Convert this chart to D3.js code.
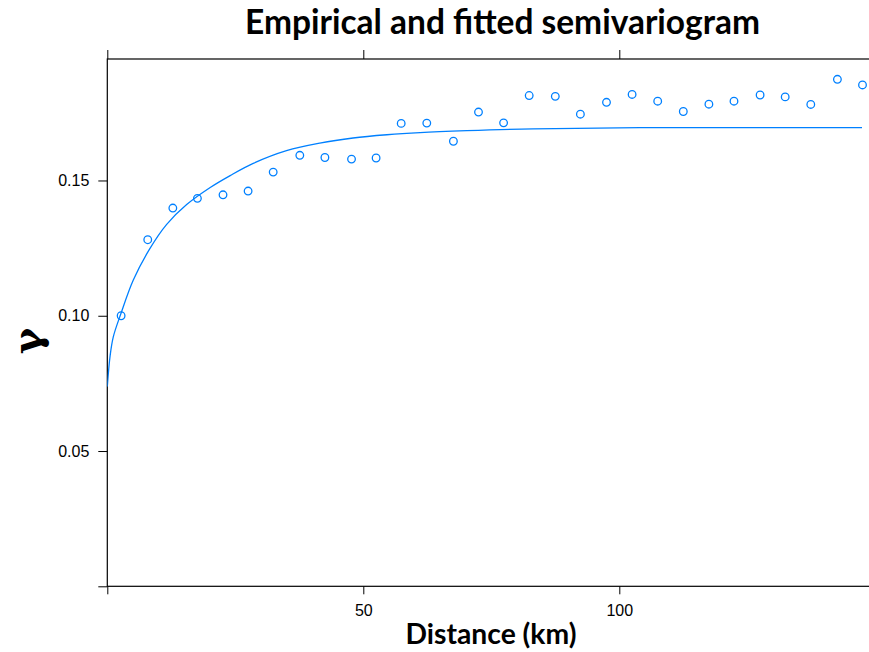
<!DOCTYPE html>
<html>
<head>
<meta charset="utf-8">
<script src="https://cdn.jsdelivr.net/npm/d3@7"></script>
<style>
  body { margin: 0; background: #fff; }
  svg { display: block; }
  .tick text { font-family: "Liberation Sans", Arial, sans-serif; font-size: 16px; fill: #000; }
  .tick line, .domain { stroke: #000; }
</style>
</head>
<body>
<svg id="chart" width="869" height="652"></svg>
<script>
// empirical semivariogram (distance in km, gamma)
const distances = [2.7, 7.9, 12.8, 17.6, 22.6, 27.5, 32.4, 37.6, 42.5, 47.7,
  52.5, 57.4, 62.4, 67.6, 72.5, 77.4, 82.4, 87.5, 92.4, 97.5,
  102.5, 107.5, 112.5, 117.5, 122.4, 127.5, 132.4, 137.4, 142.6, 147.5];
const gammas = [0.1000, 0.1281, 0.1398, 0.1434, 0.1447, 0.1461, 0.1531, 0.1593, 0.1585, 0.1579,
  0.1583, 0.1711, 0.1712, 0.1645, 0.1753, 0.1713, 0.1814, 0.1811, 0.1745, 0.1789,
  0.1818, 0.1793, 0.1755, 0.1782, 0.1793, 0.1816, 0.1809, 0.1781, 0.1874, 0.1853];

// fitted model
const fitDist = [0, 0.53, 1.17, 2.68, 5.08, 8.34, 11.6, 15.5, 20.1, 24.0, 28.5,
  35.0, 41.5, 48.0, 54.6, 61.1, 70.2, 83.2, 104.0, 147.4];
const fitGamma = [0.0738, 0.0849, 0.0922, 0.1009, 0.1132, 0.1249, 0.1338, 0.1411,
  0.1474, 0.1518, 0.1563, 0.1610, 0.1638, 0.1657, 0.1669, 0.1677, 0.1684, 0.1691, 0.1695, 0.1695];

const xTicks = [0, 50, 100];
const yTicks = [0, 0.05, 0.10, 0.15];

const panel = { left: 107.3, top: 59, bottom: 586.3 };
const pxPerKm = 5.12;
const xMax = 155;
const yMax = 0.1949;
const blue = "#0080ff";

const svg = d3.select("#chart");

const x = d3.scaleLinear().domain([0, xMax]).range([panel.left, panel.left + xMax * pxPerKm]);
const y = d3.scaleLinear().domain([0, yMax]).range([panel.bottom, panel.top]);

svg.append("defs").append("clipPath").attr("id", "clip")
  .append("rect")
  .attr("x", x(0)).attr("y", y(yMax))
  .attr("width", x(xMax) - x(0)).attr("height", y(0) - y(yMax));

// panel box
svg.append("rect")
  .attr("x", x(0)).attr("y", y(yMax))
  .attr("width", x(xMax) - x(0)).attr("height", y(0) - y(yMax))
  .attr("fill", "none").attr("stroke", "#000").attr("stroke-width", 1.2);

const lbl = (v, fmt) => (v === 0 ? "" : fmt(v));

svg.append("g")
  .attr("transform", `translate(0, ${y(0)})`)
  .call(d3.axisBottom(x).tickValues(xTicks).tickSize(8).tickPadding(10).tickFormat(v => lbl(v, d3.format("d"))))
  .call(g => g.select(".domain").remove());

svg.append("g")
  .attr("transform", `translate(0, ${y(yMax)})`)
  .call(d3.axisTop(x).tickValues(xTicks).tickSize(9).tickFormat(""))
  .call(g => g.select(".domain").remove());

svg.append("g")
  .attr("transform", `translate(${x(0)}, 0)`)
  .call(d3.axisLeft(y).tickValues(yTicks).tickSize(9).tickPadding(9).tickFormat(v => lbl(v, d3.format(".2f"))))
  .call(g => g.select(".domain").remove());

const plot = svg.append("g").attr("clip-path", "url(#clip)");

const fit = fitDist.map((d, i) => [d, fitGamma[i]]);
plot.append("path")
  .datum(fit)
  .attr("fill", "none")
  .attr("stroke", blue)
  .attr("stroke-width", 1.3)
  .attr("d", d3.line().x(d => x(d[0])).y(d => y(d[1])).curve(d3.curveCatmullRom.alpha(0.5)));

plot.selectAll("circle")
  .data(distances.map((d, i) => [d, gammas[i]]))
  .join("circle")
  .attr("cx", d => x(d[0]))
  .attr("cy", d => y(d[1]))
  .attr("r", 3.8)
  .attr("fill", "none")
  .attr("stroke", blue)
  .attr("stroke-width", 1.3);

// fit a bold label to a measured width
const fitText = (sel, target) => {
  const w = sel.node().getComputedTextLength();
  const fs = parseFloat(sel.attr("font-size"));
  sel.attr("font-size", fs * target / w);
};

const title = svg.append("text")
  .attr("x", 502.5).attr("y", 34)
  .attr("text-anchor", "middle")
  .attr("font-family", "Lato, 'Open Sans', sans-serif")
  .attr("font-weight", "bold")
  .attr("font-size", 30)
  .text("Empirical and fitted semivariogram");
fitText(title, 515);

const xlab = svg.append("text")
  .attr("x", 491).attr("y", 644)
  .attr("text-anchor", "middle")
  .attr("font-family", "Lato, 'Open Sans', sans-serif")
  .attr("font-weight", "bold")
  .attr("font-size", 26)
  .text("Distance (km)");
fitText(xlab, 171);

svg.append("text")
  .attr("transform", "translate(41, 341) rotate(-90)")
  .attr("text-anchor", "middle")
  .attr("font-family", "'DejaVu Serif', serif")
  .attr("font-weight", "bold")
  .attr("font-size", 40)
  .text("γ");
</script>
</body>
</html>
